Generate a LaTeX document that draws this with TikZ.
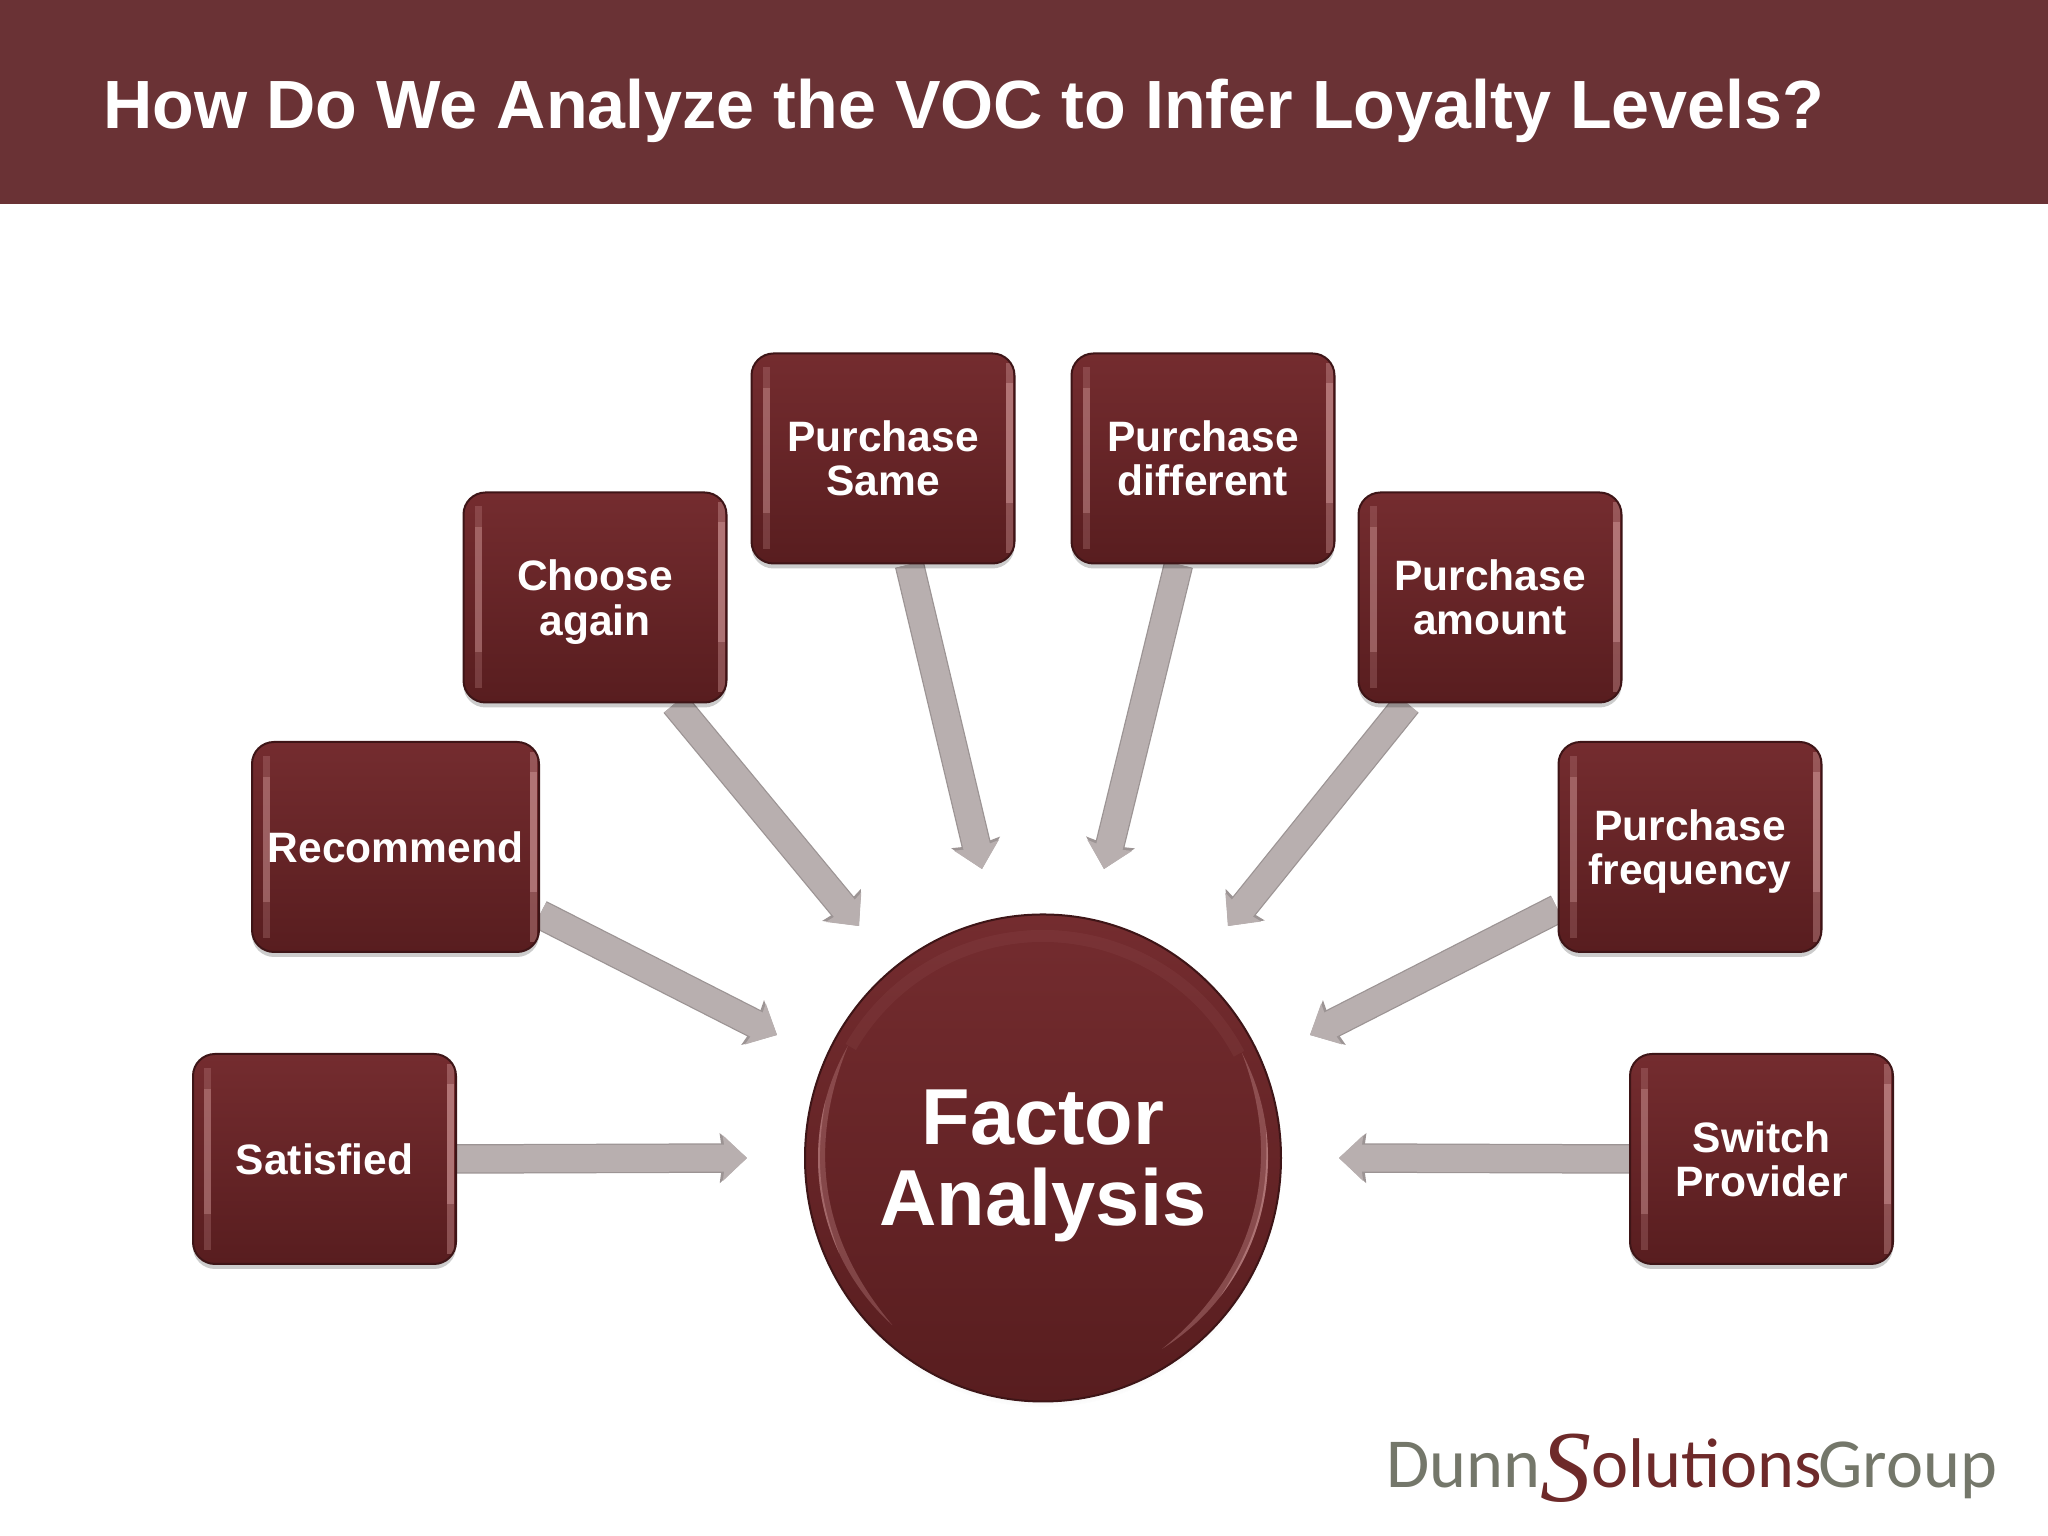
\documentclass[tikz,border=0pt]{standalone}
\usepackage{fontspec}
\setmainfont{Liberation Sans}
\newfontfamily\logofont{Carlito}
\newfontfamily\logoserif{Liberation Serif}
\usetikzlibrary{arrows.meta,backgrounds,shadows,shapes.geometric,calc}
\definecolor{bannerred}{HTML}{6A3235}
\definecolor{boxtop}{HTML}{742C2F}
\definecolor{boxbot}{HTML}{581D1F}
\definecolor{boxedge}{HTML}{3E1517}
\definecolor{glint}{HTML}{D29A9A}
\definecolor{connfill}{HTML}{B8AFAF}
\definecolor{connedge}{HTML}{9C9494}
\definecolor{logogray}{HTML}{74776A}
\definecolor{logored}{HTML}{6E2A2A}
\newcommand{\nodepth}[1]{\leavevmode\smash{#1}}
\begin{document}
\begin{tikzpicture}[
	main/.style = {draw=boxedge, line width=.2mm, rounded corners=2.2mm, top color=boxtop, bottom color=boxbot,
		minimum width=2.63cm, minimum height=2.1cm, align=center, text=white, inner sep=0pt,
		font=\bfseries\fontsize{12.1}{12.6}\selectfont,
		drop shadow={shadow xshift=0mm, shadow yshift=-.5mm, opacity=.2, fill=black},
		path picture={
			\fill[glint, opacity=.25, sharp corners] ($(path picture bounding box.north west)+(.11,-.14)$) rectangle ($(path picture bounding box.south west)+(.18,.14)$);
			\fill[glint, opacity=.35, sharp corners] ($(path picture bounding box.north west)+(.11,-.35)$) rectangle ($(path picture bounding box.south west)+(.18,.5)$);
			\fill[glint, opacity=.4, sharp corners] ($(path picture bounding box.north east)+(-.09,-.1)$) rectangle ($(path picture bounding box.south east)+(-.02,.1)$);
			\fill[glint, opacity=.45, sharp corners] ($(path picture bounding box.north east)+(-.09,-.3)$) rectangle ($(path picture bounding box.south east)+(-.02,.6)$);
		}},
	hub/.style = {draw=boxedge, line width=.2mm, ellipse, top color=boxtop, bottom color=boxbot,
		minimum width=4.76cm, minimum height=4.87cm, align=center, text=white, inner sep=0pt,
		font=\bfseries\fontsize{22.6}{23}\selectfont,
		circular drop shadow={shadow xshift=0mm, shadow yshift=-.6mm, opacity=.15, fill=black, shadow scale=1}},
	conn/.style = {draw=connfill, line width=.27cm, -{Stealth[length=.24cm, width=.45cm, inset=.03cm]},
		preaction={draw=connedge, line width=.295cm, -{Stealth[length=.27cm, width=.49cm, inset=.03cm]}}},
	]
	\useasboundingbox (0,0) rectangle (20.48,15.36);

	% header
	\node[fill=bannerred, minimum width=20.48cm, minimum height=2.04cm, inner sep=0pt] (banner) at (10.24,14.34) {};
	\node[anchor=west, text=white, inner sep=0pt, font=\bfseries\fontsize{19.42}{24}\selectfont] (title) at (1.03,14.25) {How Do We Analyze the VOC to Infer Loyalty Levels?};

	% boxes
	\node[main] (sat) at (3.245,3.77) {Satisfied};
	\node[main, minimum width=2.87cm] (rec) at (3.955,6.89) {Recommend};
	\node[main] (cho) at (5.95,9.385) {Choose\\\nodepth{again}};
	\node[main] (same) at (8.83,10.775) {Purchase\\Same};
	\node[main] (diff) at (12.03,10.775) {Purchase\\different};
	\node[main] (amt) at (14.90,9.385) {Purchase\\amount};
	\node[main] (freq) at (16.90,6.89) {Purchase\\\nodepth{frequency}};
	\node[main] (sw) at (17.615,3.77) {Switch\\Provider};
	\node[hub] (fa) at (10.43,3.78) {Factor\\\nodepth{Analysis}};

	% free ends of the arrows
	\coordinate (tsat) at (7.47,3.78);
	\coordinate (trec) at (7.77,5.01);
	\coordinate (tcho) at (8.59,6.10);
	\coordinate (tsame) at (9.82,6.67);
	\coordinate (tdiff) at (11.04,6.67);
	\coordinate (tamt) at (12.28,6.10);
	\coordinate (tfreq) at (13.10,5.01);
	\coordinate (tsw) at (13.39,3.78);

	\begin{scope}[on background layer]
		\path
			(sat.east) edge [conn] (tsat)
			(rec.-25) edge [conn] (trec)
			(cho.-53) edge [conn] (tcho)
			(same.-76) edge [conn] (tsame)
			(diff.-103) edge [conn] (tdiff)
			(amt.-128) edge [conn] (tamt)
			(freq.-155) edge [conn] (tfreq)
			(sw.west) edge [conn] (tsw);
	\end{scope}

	% glints on the hub
	\fill[glint, opacity=.3] (fa.center) ++(150:2.25) arc[start angle=150, end angle=228, radius=2.25] to[bend left=31] ($(fa.center)+(150:2.25)$);
	\fill[glint, opacity=.4] (fa.center) ++(165:2.25) arc[start angle=165, end angle=205, radius=2.25] to[bend left=15] ($(fa.center)+(165:2.25)$);
	\fill[glint, opacity=.35] (fa.center) ++(-58:2.25) arc[start angle=-58, end angle=28, radius=2.25] to[bend left=36] ($(fa.center)+(-58:2.25)$);
	\fill[glint, opacity=.5] (fa.center) ++(-38:2.25) arc[start angle=-38, end angle=8, radius=2.25] to[bend left=18] ($(fa.center)+(-38:2.25)$);
	\draw[glint, opacity=.07, line width=1.2mm] (fa.center) ++(28:2.22) arc[start angle=28, end angle=150, radius=2.22];

	% logo
	\node[anchor=base west, inner sep=0pt, text=logogray, font=\logofont\fontsize{20}{20}\selectfont] (logo) at (13.86,.48) {Dunn{\color{logored}\raisebox{-.14cm}{\logoserif\itshape\fontsize{29}{29}\selectfont S}olutions}\hspace{-.04cm}Group};
\end{tikzpicture}
\end{document}
